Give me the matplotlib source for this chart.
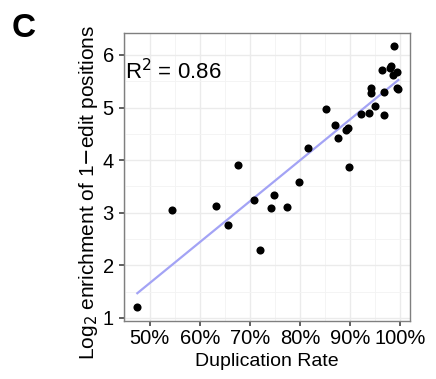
import matplotlib
matplotlib.use('Agg')
import matplotlib.pyplot as plt
import numpy as np
from matplotlib.ticker import MultipleLocator, FuncFormatter

plt.rcParams['font.family'] = ['Liberation Sans', 'DejaVu Sans']

# duplication rate (%) and log2 enrichment
dup_rate = [47.5, 54.4, 63.3, 65.7, 67.7, 70.8, 72.0, 74.3, 74.9, 77.5,
            79.9, 81.6, 85.3, 87.1, 87.7, 89.3, 89.7, 89.8, 92.2, 93.9,
            95.1, 94.3, 94.3, 96.8, 96.8, 96.4, 98.2, 98.8, 98.0, 98.7,
            99.5, 99.4, 99.7]
enrich = [1.20, 3.05, 3.13, 2.76, 3.90, 3.24, 2.29, 3.09, 3.33, 3.10,
          3.58, 4.23, 4.98, 4.66, 4.42, 4.57, 4.61, 3.87, 4.87, 4.89,
          5.02, 5.38, 5.27, 4.85, 5.29, 5.71, 5.78, 6.17, 5.75, 5.62,
          5.68, 5.38, 5.35]
x_ticks = [50, 60, 70, 80, 90, 100]
y_ticks = [1, 2, 3, 4, 5, 6]

x = np.array(dup_rate)
y = np.array(enrich)
slope, icpt = np.polyfit(x, y, 1)
xl = np.array([x.min(), x.max()])

fig = plt.figure(figsize=(4.36, 3.79), dpi=100)
ax = fig.add_axes([0.284, 0.153, 0.656, 0.759])

ax.set_xlim(44.8, 102.0)
ax.set_ylim(0.94, 6.41)
ax.set_xticks(x_ticks)
ax.set_yticks(y_ticks)
ax.xaxis.set_minor_locator(MultipleLocator(5))
ax.yaxis.set_minor_locator(MultipleLocator(0.5))
ax.xaxis.set_major_formatter(FuncFormatter(lambda v, p: '%d%%' % v))
ax.grid(which='major', color='#ebebeb', linewidth=1.0, zorder=0)
ax.grid(which='minor', color='#f3f3f3', linewidth=0.6, zorder=0)
ax.set_axisbelow(True)
for s in ax.spines.values():
    s.set_color('#7f7f7f')
    s.set_linewidth(1.0)
ax.tick_params(which='major', length=3.6, width=1.1, color='#333333',
               labelsize=14.5, labelcolor='black')
ax.tick_params(axis='x', pad=2.5)
ax.tick_params(axis='y', pad=3.6)
ax.tick_params(which='minor', length=0)

ax.plot(xl, slope * xl + icpt, color='#a3a3f5', linewidth=1.6, zorder=2)
ax.scatter(x, y, s=34, color='black', zorder=3, linewidths=0)

ax.text(0.005, 0.84, r'R$^2$ = 0.86', transform=ax.transAxes, fontsize=16,
        va='baseline', ha='left')
ax.set_xlabel('Duplication Rate', fontsize=14, labelpad=3.6)
ax.set_ylabel(r'Log$_2$ enrichment of 1$-$edit positions', fontsize=15, labelpad=4)
ax.yaxis.set_label_coords(-0.082, 0.448)

fig.text(0.027, 0.903, 'C', fontsize=24, fontweight='bold', va='baseline')

fig.savefig('out.png', dpi=100)
